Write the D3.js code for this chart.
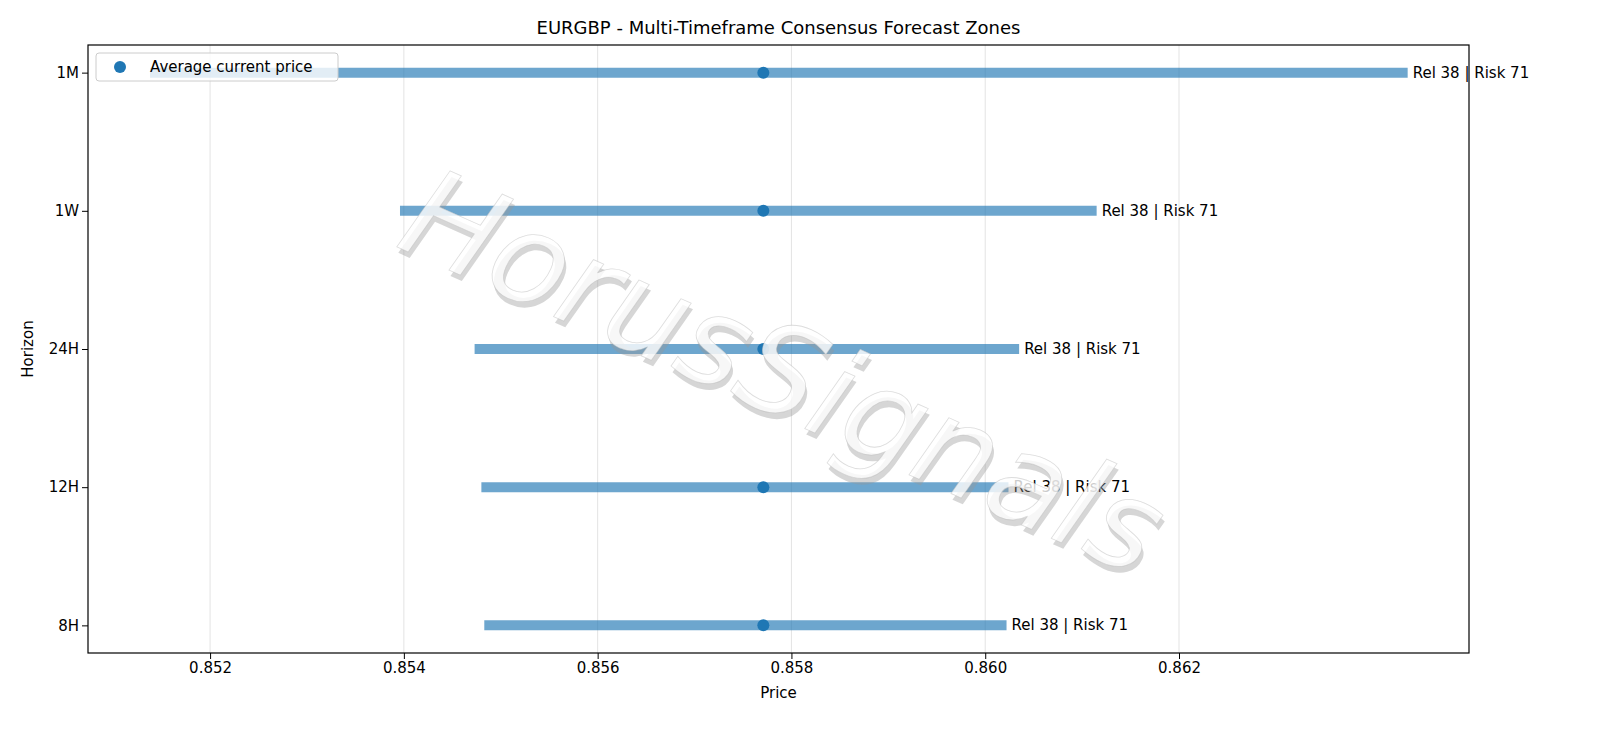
<!DOCTYPE html><html><head><meta charset="utf-8">
<script src="https://cdn.jsdelivr.net/npm/d3@7"></script>
<style>body{margin:0;background:#fff}text{font-family:"DejaVu Sans",sans-serif}</style></head><body>
<svg id="c" width="1600" height="738"></svg>
<script>
const horizons=["8H","12H","24H","1W","1M"];
const lows=[0.85483,0.85480,0.85473,0.85396,0.85138];
const highs=[0.86022,0.86024,0.86035,0.86115,0.86436];
const currents=[0.85771,0.85771,0.85771,0.85771,0.85771];
const labels=["Rel 38 | Risk 71","Rel 38 | Risk 71","Rel 38 | Risk 71","Rel 38 | Risk 71","Rel 38 | Risk 71"];
const xTicks=[0.852,0.854,0.856,0.858,0.860,0.862];
const svg=d3.select("#c");
const L=88,R=1469,T=45,B=653;
const x=d3.scaleLinear().domain([0.85074,0.864993]).range([L,R]);
const y=d3.scaleLinear().domain([-0.2,4.2]).range([B,T]);
const blue="#1f77b4";
svg.append("g").selectAll("line").data(xTicks).join("line")
 .attr("x1",d=>x(d)).attr("x2",d=>x(d)).attr("y1",T).attr("y2",B).attr("stroke","#e3e3e3").attr("stroke-width",1);
const g=svg.append("g");
g.selectAll("line").data(horizons).join("line")
 .attr("x1",(d,i)=>x(lows[i])).attr("x2",(d,i)=>x(highs[i])).attr("y1",(d,i)=>y(i)).attr("y2",(d,i)=>y(i))
 .attr("stroke",blue).attr("stroke-opacity",0.65).attr("stroke-width",10);
g.selectAll("circle").data(horizons).join("circle")
 .attr("cx",(d,i)=>x(currents[i])).attr("cy",(d,i)=>y(i)).attr("r",6).attr("fill",blue);
g.selectAll("text").data(horizons).join("text")
 .attr("x",(d,i)=>x(highs[i])+5).attr("y",(d,i)=>y(i)+5).attr("font-size",15).text((d,i)=>labels[i]);
// watermark
const wm=svg.append("g").attr("transform","translate(780,380) rotate(24)");
wm.append("text").attr("x",4).attr("y",5).attr("text-anchor","middle").attr("dominant-baseline","middle")
 .attr("font-size",125).attr("font-style","italic").attr("fill","#999").attr("fill-opacity",0.4).text("HorusSignals");
wm.append("text").attr("text-anchor","middle").attr("dominant-baseline","middle")
 .attr("font-size",125).attr("font-style","italic").attr("fill","#fff").attr("fill-opacity",0.8)
 .attr("stroke","#bbb").attr("stroke-width",0.8).attr("stroke-opacity",0.5).text("HorusSignals");
svg.append("rect").attr("x",L).attr("y",T).attr("width",R-L).attr("height",B-T).attr("fill","none").attr("stroke","#000").attr("stroke-width",1.2);
const xa=svg.append("g").attr("transform",`translate(0,${B})`).call(d3.axisBottom(x).tickValues(xTicks).tickFormat(d3.format(".3f")).tickSizeOuter(0));
const ya=svg.append("g").attr("transform",`translate(${L},0)`).call(d3.axisLeft(y).tickValues([0,1,2,3,4]).tickFormat(i=>horizons[i]).tickSizeOuter(0));
[xa,ya].forEach(a=>{a.select(".domain").remove();a.selectAll("text").attr("font-size",15).attr("fill","#000").style("font-family","DejaVu Sans");a.selectAll("line").attr("stroke","#000");});
svg.append("text").attr("x",(L+R)/2).attr("y",34).attr("text-anchor","middle").attr("font-size",18).text("EURGBP - Multi-Timeframe Consensus Forecast Zones");
svg.append("text").attr("x",(L+R)/2).attr("y",698).attr("text-anchor","middle").attr("font-size",15).text("Price");
svg.append("text").attr("transform","translate(33,349) rotate(-90)").attr("text-anchor","middle").attr("font-size",15).text("Horizon");
const lg=svg.append("g");
lg.append("rect").attr("x",96).attr("y",53).attr("width",242).attr("height",28).attr("rx",3).attr("fill","#fff").attr("fill-opacity",0.8).attr("stroke","#ccc");
lg.append("circle").attr("cx",120).attr("cy",67).attr("r",6).attr("fill",blue);
lg.append("text").attr("x",150).attr("y",72).attr("font-size",15).text("Average current price");
</script></body></html>
